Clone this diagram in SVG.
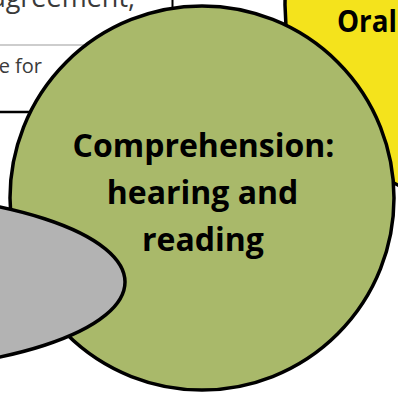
<svg xmlns="http://www.w3.org/2000/svg" width="398" height="394" viewBox="0 0 398 394">
<style>
.small{font-family:"Open Sans","Liberation Sans",sans-serif;font-size:20px;fill:#3a3a3a}
.big{font-family:"Open Sans","Liberation Sans",sans-serif;font-size:32px;font-weight:bold;fill:#000;text-anchor:middle}
.shape{stroke:#000;stroke-width:3.5}
</style>
<rect width="398" height="394" fill="#fff"/>
<g id="box-agreement">
<text class="small" x="135" y="7" text-anchor="end" style="font-size:27px">agreement,</text>
<line x1="172.5" y1="0" x2="172.5" y2="12" stroke="#000" stroke-width="2"/>
<line x1="0" y1="45" x2="100" y2="45" stroke="#bdbdbd" stroke-width="1.5"/>
</g>
<g id="box-for">
<text class="small" x="42" y="73" text-anchor="end">e for</text>
<line x1="0" y1="112" x2="40" y2="112" stroke="#000" stroke-width="2.5"/>
</g>
<g id="oral">
<circle class="shape" cx="485" cy="5" r="200" fill="#f4e31c"/>
<text class="big" x="337" y="32" style="text-anchor:start;font-size:31px" textLength="60" lengthAdjust="spacingAndGlyphs">Oral</text>
</g>
<g id="comprehension">
<circle class="shape" cx="202" cy="198" r="192" fill="#a9b96a"/>
<text class="big" x="203.5" y="157">Comprehension:</text>
<text class="big" x="202.5" y="204">hearing and</text>
<text class="big" x="203" y="251">reading</text>
</g>
<g id="gray-ellipse">
<ellipse class="shape" cx="-150" cy="282" rx="275" ry="89.5" fill="#b3b3b3"/>
</g>
<g id="connectors"></g>
</svg>
